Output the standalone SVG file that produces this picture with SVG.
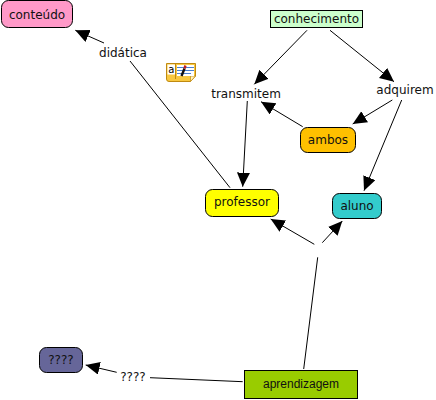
<svg xmlns="http://www.w3.org/2000/svg" width="436" height="400" viewBox="0 0 436 400">
<defs>
<style>
text{font-family:"DejaVu Sans",Verdana,sans-serif;font-size:12px;fill:#111;text-anchor:middle}
.n{stroke:#000;stroke-width:1}
.c line{stroke:#000;stroke-width:1;fill:none}
.a line{marker-end:url(#ah)}
</style>
<marker id="ah" markerUnits="userSpaceOnUse" markerWidth="16" markerHeight="14" refX="14" refY="6.5" orient="auto">
<path d="M0 0L14 6.5L0 13Z" fill="#000"/>
</marker>
</defs>
<rect width="436" height="400" fill="#fff"/>
<g id="connectors" class="c">
<g class="a">
<line x1="104" y1="43" x2="75.3" y2="30.3"/>
<line x1="307" y1="30.3" x2="254.3" y2="84.3"/>
<line x1="330" y1="30.3" x2="394" y2="81.7"/>
<line x1="302.7" y1="126.7" x2="261" y2="101.7"/>
<line x1="392.3" y1="100" x2="352.7" y2="124"/>
<line x1="401.7" y1="100" x2="364" y2="190.7"/>
<line x1="247.3" y1="101" x2="242.7" y2="186.7"/>
<line x1="314.3" y1="244.3" x2="270.7" y2="219"/>
<line x1="322.3" y1="242.7" x2="342.3" y2="221"/>
<line x1="116.7" y1="372.3" x2="85.7" y2="365"/>
</g>
<line x1="230" y1="187.7" x2="130" y2="61"/>
<line x1="303.7" y1="369" x2="317.7" y2="257.3"/>
<line x1="242.7" y1="381.7" x2="150" y2="377.7"/>
</g>
<g id="conteudo"><rect class="n" x="1.500" y="0.500" width="71" height="27" rx="7" fill="#ff99c8"/><text x="37" y="19">conteúdo</text></g>
<g id="conhecimento"><rect class="n" x="270.500" y="10.500" width="92" height="17" fill="#ccffcc"/><text x="316.500" y="23">conhecimento</text></g>
<g id="ambos"><rect class="n" x="300.500" y="127.500" width="55" height="25" rx="7" fill="#ffc000"/><text x="328" y="144">ambos</text></g>
<g id="professor"><rect class="n" x="205.500" y="189.500" width="73" height="27" rx="7" fill="#ffff00"/><text x="242" y="206">professor</text></g>
<g id="aluno"><rect class="n" x="332.500" y="193.500" width="49" height="25" rx="7" fill="#33cccc"/><text x="357" y="210">aluno</text></g>
<g id="interrogacao"><rect class="n" x="39.500" y="347.500" width="43" height="25" rx="7" fill="#666699"/><text x="61" y="364">????</text></g>
<g id="aprendizagem"><rect class="n" x="244.500" y="370.500" width="113" height="28" fill="#99cc00"/><text x="301" y="388" style="font-family:'Liberation Sans',Arial,sans-serif;font-size:12px">aprendizagem</text></g>
<g id="didatica"><text x="123" y="57">didática</text></g>
<g id="transmitem"><text x="246" y="98">transmitem</text></g>
<g id="adquirem"><text x="405" y="94">adquirem</text></g>
<g id="rotulo"><text x="133" y="381">????</text></g>
<g id="nota">
<path d="M166.500 63.500H195.500V76L190.500 81.500H169Q166.500 81.500 166.500 79Z" fill="#f8c840" stroke="#c08a10"/>
<path d="M190.500 81.500V76H195.500Z" fill="#fff3c0" stroke="#c08a10" stroke-width=".7"/>
<rect x="167.500" y="64.500" width="7.500" height="10" fill="#fff"/>
<path d="M175.500 64V79" stroke="#c08a10" fill="none"/>
<rect x="177" y="65" width="17" height="11" fill="#fff"/>
<path d="M177 67.500H194M177 70.500H194M177 73.500H191" stroke="#4a80d0" fill="none"/>
<path d="M181.500 76L184.500 68.500" stroke="#111" stroke-width="2.400" fill="none"/>
<path d="M184.500 68.500L185.500 65.500" stroke="#c02020" stroke-width="2.400" fill="none"/>
<text x="171.300" y="72.500" style="font-size:10px;fill:#000">a</text>
</g>
</svg>
